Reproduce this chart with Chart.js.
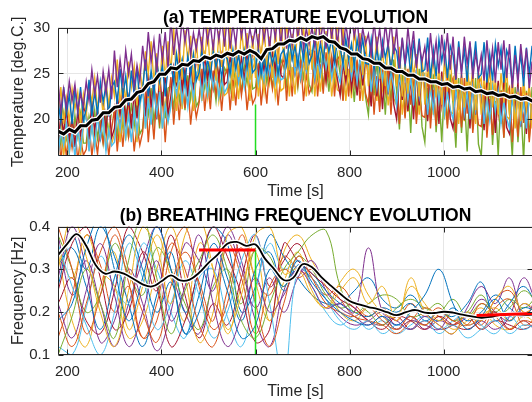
<!DOCTYPE html>
<html><head><meta charset="utf-8">
<script src="https://cdn.jsdelivr.net/npm/chart.js@4.4.1/dist/chart.umd.min.js"></script>
<style>
html,body{margin:0;padding:0;background:#fff;overflow:hidden;width:532px;height:402px;position:relative}
#c1{position:absolute;left:0;top:0}
#c2{position:absolute;left:0;top:200px}
</style></head>
<body>
<canvas id="c1" width="536" height="200"></canvas>
<canvas id="c2" width="536" height="202"></canvas>
<script>
// ---------- shared axis ----------
const xTickValues = [200, 400, 600, 800, 1000];
const xRange = [180, 1190];

// ---------- (a) temperature ----------
const tempTicks = [20, 25, 30];
const tempRange = [16, 30];
const tTimes = [180,186,192,198,204,210,216,222,228,234,240,246,252,258,264,270,276,282,288,294,
300,306,312,318,324,330,336,342,348,354,360,366,372,378,384,390,396,402,408,414,
420,426,432,438,444,450,456,462,468,474,480,486,492,498,504,510,516,522,528,534,
540,546,552,558,564,570,576,582,588,594,600,606,612,618,624,630,636,642,648,654,
660,666,672,678,684,690,696,702,708,714,720,726,732,738,744,750,756,762,768,774,
780,786,792,798,804,810,816,822,828,834,840,846,852,858,864,870,876,882,888,894,
900,906,912,918,924,930,936,942,948,954,960,966,972,978,984,990,996,1002,1008,1014,
1020,1026,1032,1038,1044,1050,1056,1062,1068,1074,1080,1086,1092,1098,1104,1110,1116,1122,1128,1134,
1140,1146,1152,1158,1164,1170,1176,1182,1188];
const tempPurple = [24.1,20.9,23.3,21.2,24.1,22.0,23.8,20.9,22.8,21.4, 24.1,22.0,25.4,22.7,24.7,21.8,25.2,22.9,25.4,22.2,
27.5,23.5,26.5,23.9,27.5,24.9,27.1,23.5,25.9,24.1, 28.0,25.3,29.5,26.2,28.6,25.1,29.3,26.4,29.5,25.5,
31.0,27.0,30.0,27.4,31.0,28.4,30.6,27.0,29.4,27.6, 29.8,27.7,31.1,28.4,30.4,27.5,30.9,28.6,31.1,27.9,
31.3,27.7,30.4,28.1,31.3,29.0,30.9,27.7,29.9,28.2, 30.0,27.9,31.3,28.6,30.6,27.7,31.1,28.8,31.3,28.1,
31.3,27.7,30.4,28.1,31.3,29.0,30.9,27.7,29.9,28.2, 30.0,27.9,31.3,28.6,30.6,27.7,31.1,28.8,31.3,28.1,
31.3,27.7,30.4,28.1,31.3,29.0,30.9,27.7,29.9,28.2, 29.3,26.9,30.7,27.7,29.9,26.7,30.5,27.9,30.7,27.1,
30.0,25.6,28.9,26.0,30.0,27.1,29.6,25.6,28.2,26.3, 27.9,25.2,29.4,26.1,28.5,25.0,29.2,26.3,29.4,25.4,
29.0,24.4,27.9,24.9,29.0,26.0,28.5,24.4,27.2,25.1, 27.0,24.2,28.6,25.1,27.7,24.0,28.4,25.4,28.6,24.5,
28.2,23.4,27.0,23.9,28.2,25.1,27.7,23.4,26.3];
const tempYellowA = [20.3,23.5,19.5,22.3,19.7,23.3,21.1,22.9,19.5,22.7, 20.5,23.7,21.9,24.5,21.1,23.5,20.5,24.1,21.5,24.5,
22.5,26.5,21.5,25.0,21.8,26.3,23.5,25.8,21.5,25.5, 23.1,27.4,25.0,28.5,23.9,27.2,23.1,28.0,24.5,28.5,
25.2,30.0,24.0,28.2,24.3,29.7,26.4,29.1,24.0,28.8, 24.2,29.0,26.3,30.2,25.1,28.7,24.2,29.6,25.7,30.2,
25.5,30.3,24.3,28.5,24.6,30.0,26.7,29.4,24.3,29.1, 24.5,29.3,26.6,30.5,25.4,29.0,24.5,29.9,26.0,30.5,
26.5,31.0,25.4,29.3,25.7,30.7,27.6,30.2,25.4,29.9, 25.4,29.9,27.4,31.0,26.2,29.6,25.4,30.4,26.8,31.0,
25.9,30.2,24.8,28.6,25.1,29.9,27.0,29.4,24.8,29.1, 23.6,27.9,25.5,29.0,24.4,27.7,23.6,28.5,25.0,29.0,
23.6,27.9,22.5,26.3,22.8,27.6,24.7,27.1,22.5,26.8, 21.6,25.9,23.5,27.0,22.4,25.7,21.6,26.5,23.0,27.0,
22.0,26.0,21.0,24.5,21.3,25.8,23.0,25.3,21.0,25.0, 20.5,24.5,22.3,25.5,21.3,24.3,20.5,25.0,21.8,25.5,
20.5,24.5,19.5,23.0,19.8,24.3,21.5,23.8,19.5];
const tempBlue = [22.1,19.7,23.5,20.5,22.7,19.5,23.3,20.7,23.5,19.9, 21.1,24.3,20.3,23.1,20.5,24.1,21.9,23.7,20.3,23.5,
24.1,21.7,25.5,22.5,24.7,21.5,25.3,22.7,25.5,21.9, 23.3,26.5,22.5,25.3,22.7,26.3,24.1,25.9,22.5,25.7,
26.0,24.1,27.1,24.7,26.5,23.9,26.9,24.9,27.1,24.2, 25.1,27.5,24.5,26.6,24.7,27.4,25.7,27.1,24.5,26.9,
26.6,24.9,27.6,25.5,27.0,24.8,27.5,25.6,27.6,25.1, 25.5,27.7,24.9,26.9,25.0,27.6,26.0,27.3,24.9,27.1,
27.6,25.9,28.6,26.5,28.0,25.8,28.5,26.6,28.6,26.1, 26.9,29.1,26.3,28.3,26.4,29.0,27.4,28.7,26.3,28.5,
27.8,26.0,28.8,26.6,28.2,25.8,28.7,26.7,28.8,26.1, 26.0,28.7,25.3,27.7,25.5,28.5,26.7,28.2,25.3,28.0,
27.4,25.0,28.8,25.8,28.0,24.8,28.6,26.0,28.8,25.2, 25.4,28.9,24.5,27.6,24.7,28.7,26.3,28.2,24.5,28.0,
27.0,24.3,28.5,25.2,27.6,24.1,28.3,25.4,28.5,24.5, 24.9,28.4,24.0,27.1,24.2,28.2,25.8,27.7,24.0,27.5,
26.5,23.8,28.0,24.7,27.1,23.6,27.8,24.9,28.0];
const tempLightBlue = [15.9,18.8,17.2,19.5,16.4,18.6,15.9,19.1,16.8,19.5, 20.5,16.5,19.5,16.9,20.5,17.9,20.1,16.5,18.9,17.1,
17.5,20.7,18.9,21.5,18.1,20.5,17.5,21.1,18.5,21.5, 23.4,19.0,22.3,19.4,23.4,20.5,23.0,19.0,21.6,19.7,
21.4,24.3,22.7,25.0,21.9,24.1,21.4,24.6,22.3,25.0, 25.6,22.4,24.8,22.7,25.6,23.5,25.3,22.4,24.3,22.9,
23.5,25.9,24.6,26.5,24.0,25.8,23.5,26.2,24.3,26.5, 26.7,23.9,26.0,24.2,26.7,24.9,26.4,23.9,25.6,24.3,
24.5,26.9,25.6,27.5,25.0,26.8,24.5,27.2,25.3,27.5, 27.5,24.5,26.8,24.8,27.5,25.6,27.2,24.5,26.3,25.0,
24.0,26.4,25.1,27.0,24.5,26.3,24.0,26.7,24.8,27.0, 26.6,23.0,25.7,23.4,26.6,24.3,26.2,23.0,25.2,23.5,
21.5,24.7,22.9,25.5,22.1,24.5,21.5,25.1,22.5,25.5, 24.5,20.5,23.5,20.9,24.5,21.9,24.1,20.5,22.9,21.1,
20.0,23.2,21.4,24.0,20.6,23.0,20.0,23.6,21.0,24.0, 23.5,19.5,22.5,19.9,23.5,20.9,23.1,19.5,21.9,20.1,
19.0,22.2,20.4,23.0,19.6,22.0,19.0,22.6,20.0];
const tempOrange = [19.5,15.5,18.5,15.9,19.5,16.9,19.1,15.5,17.9,16.1, 16.7,19.6,16.0,18.5,16.2,19.4,17.4,19.1,16.0,18.9,
21.1,16.5,20.0,17.0,21.1,18.1,20.6,16.5,19.3,17.2, 18.6,23.1,17.5,21.4,17.8,22.8,19.7,22.3,17.5,22.0,
24.6,19.4,23.3,19.9,24.6,21.2,24.1,19.4,22.5,20.2, 21.8,25.5,20.9,24.1,21.1,25.3,22.7,24.8,20.9,24.6,
25.6,21.0,24.5,21.5,25.6,22.6,25.1,21.0,23.8,21.7, 22.4,26.1,21.5,24.7,21.7,25.9,23.3,25.4,21.5,25.2,
27.0,22.0,25.8,22.5,27.0,23.8,26.5,22.0,25.0,22.8, 23.5,27.5,22.5,26.0,22.8,27.3,24.5,26.8,22.5,26.5,
27.0,22.0,25.8,22.5,27.0,23.8,26.5,22.0,25.0,22.8, 21.7,26.5,20.5,24.7,20.8,26.2,22.9,25.6,20.5,25.3,
25.5,19.5,24.0,20.1,25.5,21.6,24.9,19.5,23.1,20.4, 20.2,25.0,19.0,23.2,19.3,24.7,21.4,24.1,19.0,23.8,
24.5,18.5,23.0,19.1,24.5,20.6,23.9,18.5,22.1,19.4, 19.2,24.0,18.0,22.2,18.3,23.7,20.4,23.1,18.0,22.8,
23.5,17.5,22.0,18.1,23.5,19.6,22.9,17.5,21.1];
const tempGreen = [19.3,17.2,20.6,17.9,19.9,17.0,20.4,18.1,20.6,17.4, 17.4,20.3,18.7,21.0,17.9,20.1,17.4,20.6,18.3,21.0,
20.6,18.2,22.0,19.0,21.2,18.0,21.8,19.2,22.0,18.4, 19.0,22.5,20.5,23.4,19.7,22.3,19.0,23.0,20.1,23.4,
23.6,21.2,25.0,22.0,24.2,21.0,24.8,22.2,25.0,21.4, 22.0,24.9,23.3,25.6,22.5,24.7,22.0,25.2,22.9,25.6,
25.0,23.2,26.0,23.8,25.4,23.0,25.9,23.9,26.0,23.3, 23.5,25.9,24.6,26.5,24.0,25.8,23.5,26.2,24.3,26.5,
25.7,23.7,26.9,24.4,26.2,23.5,26.7,24.5,26.9,23.8, 23.0,26.2,24.4,27.0,23.6,26.0,23.0,26.6,24.0,27.0,
24.9,22.1,26.5,23.1,25.6,21.9,26.3,23.3,26.5,22.4, 20.5,25.3,22.6,26.5,21.4,25.0,20.5,25.9,22.0,26.5,
23.1,18.9,25.5,20.3,24.1,18.5,25.2,20.6,25.5,19.2, 17.5,23.4,20.1,24.9,18.6,23.1,17.5,24.2,19.4,24.9,
21.7,16.9,24.5,18.5,22.9,16.5,24.1,18.9,24.5,17.3, 16.0,22.4,18.8,24.0,17.2,22.0,16.0,23.2,18.0,24.0,
20.7,15.9,23.5,17.5,21.9,15.5,23.1,17.9,23.5];
const tempDarkRed = [17.0,20.5,18.5,21.4,17.7,20.3,17.0,21.0,18.1,21.4, 20.5,17.8,22.0,18.7,21.1,17.6,21.8,18.9,22.0,18.0,
19.0,22.5,20.5,23.4,19.7,22.3,19.0,23.0,20.1,23.4, 23.3,20.3,25.0,21.3,24.0,20.0,24.8,21.5,25.0,20.5,
22.5,25.7,23.9,26.5,23.1,25.5,22.5,26.1,23.5,26.5, 25.7,23.7,26.9,24.4,26.2,23.5,26.7,24.5,26.9,23.8,
24.1,26.8,25.3,27.5,24.6,26.7,24.1,27.2,25.0,27.5, 26.5,24.7,27.5,25.3,26.9,24.5,27.4,25.4,27.5,24.8,
24.5,26.9,25.6,27.5,25.0,26.8,24.5,27.2,25.3,27.5, 26.3,24.3,27.5,25.0,26.8,24.1,27.3,25.1,27.5,24.4,
22.6,26.1,24.1,27.0,23.3,25.9,22.6,26.6,23.7,27.0, 24.6,21.4,26.5,22.5,25.4,21.1,26.2,22.7,26.5,21.6,
20.0,24.8,22.1,26.0,20.9,24.5,20.0,25.4,21.5,26.0, 23.4,19.8,25.5,21.0,24.3,19.5,25.2,21.3,25.5,20.1,
19.0,23.8,21.1,25.0,19.9,23.5,19.0,24.4,20.5,25.0, 22.4,18.8,24.5,20.0,23.3,18.5,24.2,20.3,24.5,19.1,
18.4,22.9,20.4,24.0,19.2,22.6,18.4,23.4,19.8];
const tempYellowB = [16.8,20.0,16.0,18.8,16.2,19.8,17.6,19.4,16.0,19.2, 21.0,16.6,19.9,17.0,21.0,18.1,20.6,16.6,19.2,17.3,
18.4,22.1,17.5,20.7,17.7,21.9,19.3,21.4,17.5,21.2, 24.0,19.0,22.8,19.5,24.0,20.8,23.5,19.0,22.0,19.8,
21.8,25.5,20.9,24.1,21.1,25.3,22.7,24.8,20.9,24.6, 26.0,22.0,25.0,22.4,26.0,23.4,25.6,22.0,24.4,22.6,
22.9,26.4,22.0,25.1,22.2,26.2,23.8,25.7,22.0,25.5, 26.5,22.5,25.5,22.9,26.5,23.9,26.1,22.5,24.9,23.1,
23.4,27.1,22.5,25.7,22.7,26.9,24.3,26.4,22.5,26.2, 27.1,22.5,25.9,23.0,27.1,24.1,26.6,22.5,25.3,23.2,
23.0,27.0,22.0,25.5,22.3,26.8,24.0,26.3,22.0,26.0, 26.5,21.5,25.3,22.0,26.5,23.3,26.0,21.5,24.5,22.3,
21.5,25.5,20.5,24.0,20.8,25.3,22.5,24.8,20.5,24.5, 25.0,20.0,23.8,20.5,25.0,21.8,24.5,20.0,23.0,20.8,
20.6,24.9,19.5,23.3,19.8,24.6,21.7,24.1,19.5,23.8, 24.5,19.5,23.3,20.0,24.5,20.8,24.0,19.5,22.5,20.3,
20.0,24.0,19.0,22.5,19.3,23.8,21.0,23.3,19.0];
const tmTimes = [180,192,204,216,228,240,252,264,276,288,300,312,324,336,348,360,372,384,396,408,420,432,444,456,468,480,492,504,516,528,540,552,564,576,588,600,612,624,636,648,660,672,684,696,708,720,732,744,756,768,780,792,804,816,828,840,852,864,876,888,900,912,924,936,948,960,972,984,996,1008,1020,1032,1044,1056,1068,1080,1092,1104,1116,1128,1140,1152,1164,1176,1188,1200];
const tempMean = [18.7,18.4,18.9,18.6,19.3,19.3,19.9,20.0,20.7,20.7,
 21.3,21.4,22.1,22.2,22.9,23.1,23.9,24.1,24.9,24.9,
 25.6,25.5,26.0,25.9,26.4,26.3,26.8,26.6,27.0,26.8,
 27.2,27.0,27.4,27.1,27.5,27.2,26.6,27.6,27.7,28.2,
 28.2,28.6,28.5,28.9,28.6,29.0,28.8,29.0,28.5,28.4,
 27.8,27.6,27.1,27.1,26.6,26.5,26.1,26.1,25.6,25.6,
 25.2,25.2,24.8,24.8,24.4,24.4,24.1,24.1,23.8,23.9,
 23.5,23.6,23.3,23.4,23.0,23.1,22.8,22.9,22.6,22.7,
 22.4,22.5,22.2,22.3,22.0,22.1];
const tempEventX = [600, 600];
const tempEventY = [16, 21.6];

// ---------- (b) breathing frequency ----------
const freqTicks = [0.1, 0.2, 0.3, 0.4];
const freqRange = [0.1, 0.4];
const fTimes = [180,210,240,270,300,330,360,390,420,450,480,510,540,570,600,630,660,690,720,750,780,810,840,870,900,930,960,990,1020,1050,1080,1110,1140,1170,1200];
const freqS1 = [0.18,0.22,0.35,0.42,0.30,0.18,0.28,0.40,0.30,0.15,0.20,0.33,0.25,0.14,0.17,0.30,0.26,0.32,0.27,0.23,0.20,0.18,0.17,0.19,0.17,0.20,0.24,0.30,0.22,0.16,0.19,0.23,0.18,0.21,0.20];
const freqS2 = [0.40,0.30,0.15,0.24,0.38,0.27,0.14,0.22,0.36,0.30,0.17,0.12,0.25,0.35,0.22,0.12,0.22,0.33,0.28,0.22,0.20,0.19,0.21,0.18,0.16,0.19,0.17,0.20,0.18,0.17,0.22,0.19,0.16,0.18,0.17];
const freqS3 = [0.30,0.42,0.33,0.20,0.12,0.25,0.40,0.35,0.22,0.38,0.42,0.30,0.16,0.24,0.38,0.40,0.29,0.30,0.24,0.21,0.25,0.28,0.22,0.26,0.18,0.28,0.20,0.17,0.15,0.20,0.18,0.23,0.26,0.20,0.22];
const freqS4 = [0.22,0.14,0.25,0.36,0.24,0.12,0.20,0.32,0.18,0.26,0.38,0.22,0.12,0.19,0.28,0.20,0.24,0.30,0.26,0.21,0.22,0.20,0.35,0.20,0.18,0.16,0.19,0.17,0.15,0.21,0.26,0.22,0.28,0.19,0.24];
const freqS5 = [0.10,0.19,0.30,0.22,0.14,0.32,0.42,0.28,0.15,0.25,0.32,0.38,0.30,0.18,0.14,0.22,0.30,0.34,0.38,0.39,0.26,0.20,0.22,0.24,0.23,0.19,0.20,0.22,0.18,0.20,0.24,0.19,0.21,0.25,0.22];
const freqS6 = [0.36,0.26,0.17,0.10,0.20,0.36,0.28,0.16,0.22,0.32,0.24,0.14,0.20,0.32,0.38,0.22,0.05,0.30,0.28,0.23,0.18,0.16,0.18,0.15,0.17,0.16,0.18,0.15,0.17,0.14,0.16,0.18,0.15,0.17,0.16];
const freqS7 = [0.25,0.36,0.40,0.28,0.16,0.20,0.34,0.26,0.12,0.18,0.30,0.40,0.33,0.24,0.13,0.16,0.36,0.32,0.29,0.26,0.23,0.21,0.18,0.16,0.19,0.18,0.16,0.19,0.17,0.16,0.18,0.20,0.16,0.18,0.15];
const freqS8 = [0.31,0.35,0.26,0.16,0.28,0.38,0.30,0.20,0.27,0.15,0.24,0.36,0.28,0.18,0.30,0.34,0.25,0.31,0.29,0.25,0.22,0.20,0.19,0.21,0.20,0.22,0.18,0.20,0.19,0.22,0.27,0.18,0.22,0.26,0.21];
const freqS9 = [0.20,0.12,0.22,0.34,0.40,0.30,0.20,0.13,0.26,0.34,0.27,0.18,0.36,0.28,0.15,0.26,0.30,0.28,0.30,0.27,0.23,0.19,0.18,0.17,0.15,0.18,0.21,0.19,0.17,0.19,0.16,0.21,0.23,0.17,0.19];
const freqS10 = [0.35,0.28,0.38,0.30,0.26,0.14,0.18,0.30,0.40,0.28,0.13,0.20,0.38,0.40,0.27,0.18,0.27,0.34,0.25,0.21,0.27,0.30,0.24,0.20,0.19,0.26,0.22,0.18,0.20,0.17,0.19,0.21,0.18,0.22,0.20];
const freqS11 = [0.28,0.40,0.30,0.13,0.18,0.30,0.22,0.11,0.20,0.36,0.32,0.25,0.38,0.30,0.21,0.28,0.20,0.28,0.32,0.25,0.21,0.19,0.17,0.19,0.16,0.18,0.17,0.16,0.20,0.17,0.18,0.16,0.19,0.28,0.21];
const freqS12 = [0.38,0.30,0.20,0.24,0.36,0.29,0.24,0.35,0.30,0.22,0.16,0.26,0.30,0.22,0.35,0.33,0.26,0.33,0.30,0.24,0.21,0.22,0.20,0.17,0.21,0.23,0.21,0.20,0.23,0.19,0.22,0.20,0.23,0.21,0.24];
const freqS13 = [0.12,0.10,0.21,0.33,0.26,0.22,0.36,0.30,0.20,0.14,0.28,0.30,0.19,0.12,0.25,0.36,0.30,0.32,0.26,0.20,0.17,0.19,0.16,0.18,0.15,0.17,0.19,0.16,0.18,0.20,0.17,0.15,0.19,0.16,0.18];
const freqS14 = [0.22,0.28,0.18,0.15,0.25,0.40,0.34,0.25,0.38,0.24,0.14,0.22,0.17,0.28,0.38,0.26,0.32,0.36,0.30,0.27,0.24,0.21,0.18,0.17,0.19,0.16,0.18,0.16,0.17,0.19,0.16,0.18,0.17,0.16,0.18];
const freqS15 = [0.26,0.38,0.30,0.40,0.33,0.22,0.12,0.24,0.34,0.20,0.30,0.40,0.36,0.20,0.26,0.38,0.33,0.28,0.24,0.22,0.22,0.25,0.28,0.23,0.21,0.24,0.20,0.18,0.21,0.18,0.20,0.24,0.21,0.19,0.23];
const freqS16 = [0.14,0.24,0.38,0.31,0.20,0.26,0.14,0.18,0.34,0.40,0.26,0.16,0.22,0.38,0.28,0.24,0.33,0.30,0.28,0.24,0.26,0.22,0.19,0.21,0.18,0.22,0.19,0.21,0.18,0.20,0.17,0.23,0.25,0.20,0.22];
const freqS17 = [0.34,0.18,0.12,0.26,0.34,0.16,0.26,0.38,0.28,0.18,0.36,0.30,0.15,0.26,0.34,0.18,0.34,0.38,0.32,0.26,0.20,0.18,0.21,0.19,0.16,0.18,0.17,0.19,0.16,0.18,0.21,0.17,0.16,0.19,0.17];
const freqS18 = [0.38,0.24,0.32,0.22,0.12,0.22,0.32,0.40,0.30,0.20,0.15,0.28,0.40,0.32,0.18,0.12,0.25,0.30,0.28,0.23,0.19,0.17,0.18,0.20,0.17,0.19,0.16,0.18,0.17,0.19,0.23,0.20,0.18,0.22,0.19];
const fmTimes = [180,200,220,240,260,280,300,320,340,360,380,400,420,440,460,480,500,520,540,560,580,600,620,640,660,680,700,720,740,760,780,800,820,840,860,880,900,920,940,960,980,1000,1020,1040,1060,1080,1100,1120,1140,1160,1180,1200];
const freqMean = [0.333,0.360,0.382,0.355,0.310,0.290,0.295,0.290,0.278,0.265,
 0.260,0.272,0.286,0.274,0.276,0.292,0.315,0.335,0.360,0.364,
 0.355,0.358,0.325,0.300,0.275,0.280,0.312,0.305,0.282,0.262,
 0.243,0.226,0.218,0.212,0.207,0.200,0.193,0.200,0.205,0.199,
 0.198,0.201,0.199,0.194,0.190,0.187,0.189,0.194,0.196,0.195,
 0.194,0.195];
const freqRed1X = [480, 600], freqRed1Y = [0.345, 0.345];
const freqRed2X = [1070, 1200], freqRed2Y = [0.192, 0.197];
const freqEventX = [600, 600], freqEventY = [0.1, 0.345];

// ---------- styling ----------
const C = {blue:'#0072BD', orange:'#D95319', yellow:'#EDB120', purple:'#7E2F8E', green:'#77AC30', lightblue:'#4DBEEE', darkred:'#A2142F'};
const FONT = "'Liberation Sans', Arial, Helvetica, sans-serif";
const pts = (xs, ys) => xs.map((x, i) => ({x: x, y: ys[i]}));

const boxPlugin = {
  id: 'box',
  afterDatasetsDraw(chart) {
    const {ctx, chartArea: a, scales: {x, y}} = chart;
    ctx.save();
    ctx.strokeStyle = '#262626';
    ctx.lineWidth = 1;
    ctx.beginPath();
    const L = Math.round(a.left) + 0.5, R = Math.round(a.right) - 0.5, T = Math.round(a.top) + 0.5, B = Math.round(a.bottom) - 0.5;
    ctx.rect(L, T, R - L, B - T);
    x.ticks.forEach(t => { const p = Math.round(x.getPixelForValue(t.value)) + 0.5; ctx.moveTo(p, B); ctx.lineTo(p, B - 5); ctx.moveTo(p, T); ctx.lineTo(p, T + 5); });
    y.ticks.forEach(t => { const p = Math.round(y.getPixelForValue(t.value)) + 0.5; ctx.moveTo(L, p); ctx.lineTo(L + 5, p); ctx.moveTo(R, p); ctx.lineTo(R - 5, p); });
    ctx.stroke();
    ctx.restore();
  }
};

function makeOptions(o) {
  return {
    responsive: false, animation: false, devicePixelRatio: 1,
    layout: {padding: {left: 0, right: 3, top: 0, bottom: 0}},
    plugins: {
      legend: {display: false}, tooltip: {enabled: false},
      title: {display: true, text: o.title, color: '#000', fullSize: false,
        font: {family: FONT, size: 17.5, weight: 'bold', lineHeight: 1},
        padding: {top: o.tPadTop, bottom: o.tPadBottom}}
    },
    scales: {
      x: {type: 'linear', min: xRange[0], max: xRange[1],
        afterBuildTicks: s => { s.ticks = xTickValues.map(v => ({value: v})); },
        afterFit: s => { s.height = o.xHeight; },
        grid: {color: '#e6e6e6', drawTicks: false}, border: {display: false},
        ticks: {color: '#262626', padding: 8, maxRotation: 0, font: {family: FONT, size: 15}, callback: v => String(v)},
        title: {display: true, text: 'Time [s]', color: '#262626', font: {family: FONT, size: 16, lineHeight: 1}, padding: {top: 0, bottom: o.xTitlePad}}
      },
      y: {type: 'linear', min: o.yRange[0], max: o.yRange[1],
        afterBuildTicks: s => { s.ticks = o.yTicks.map(v => ({value: v})); },
        afterFit: s => { s.width = 58; },
        grid: {color: '#e6e6e6', drawTicks: false}, border: {display: false},
        ticks: {color: '#262626', padding: 8, font: {family: FONT, size: 15}, callback: o.yFmt},
        title: {display: true, text: o.yTitle, color: '#262626', font: {family: FONT, size: 16, lineHeight: 1}, padding: {top: 11, bottom: 0}}
      }
    }
  };
}

function series(xs, ys, color, order, width, tension) {
  return {data: pts(xs, ys), borderColor: color, borderWidth: width, pointRadius: 0, tension: tension, order: order, fill: false};
}

// ---------- chart (a) ----------
const TW = 1.4;
new Chart(document.getElementById('c1'), {
  type: 'line',
  data: {datasets: [
    series(tmTimes, tempMean, '#000000', 0, 3, 0),
    series(tmTimes, tempMean, '#ffffff', 1, 5.5, 0),
    series(tempEventX, tempEventY, '#22dd22', 2, 1.5, 0),
    series(tTimes, tempPurple, C.purple, 3, TW, 0),
    series(tTimes, tempBlue, C.blue, 4, TW, 0),
    series(tTimes, tempYellowA, C.yellow, 5, TW, 0),
    series(tTimes, tempLightBlue, C.lightblue, 6, TW, 0),
    series(tTimes, tempDarkRed, C.darkred, 7, TW, 0),
    series(tTimes, tempYellowB, C.yellow, 8, TW, 0),
    series(tTimes, tempOrange, C.orange, 9, TW, 0),
    series(tTimes, tempGreen, C.green, 10, TW, 0)
  ]},
  options: makeOptions({title: '(a) TEMPERATURE EVOLUTION', tPadTop: 9, tPadBottom: 1, xHeight: 44, xTitlePad: 0,
    yRange: tempRange, yTicks: tempTicks, yTitle: 'Temperature [deg.C.]', yFmt: v => String(v)}),
  plugins: [boxPlugin]
});

// ---------- chart (b) ----------
const freqColors = [C.blue, C.orange, C.yellow, C.purple, C.green, C.lightblue, C.darkred];
const freqAll = [freqS1, freqS2, freqS3, freqS4, freqS5, freqS6, freqS7, freqS8, freqS9, freqS10, freqS11, freqS12, freqS13, freqS14, freqS15, freqS16, freqS17, freqS18];
const dsB = [
  series(freqRed1X, freqRed1Y, '#ff0000', 0, 3, 0),
  series(freqRed2X, freqRed2Y, '#ff0000', 0, 3, 0),
  series(freqEventX, freqEventY, '#22dd22', 1, 1.5, 0),
  series(fmTimes, freqMean, '#000000', 2, 1.8, 0.4),
  series(fmTimes, freqMean, '#ffffff', 3, 4.5, 0.4)
];
freqAll.forEach((arr, i) => dsB.push(series(fTimes, arr, freqColors[i % 7], 4 + i, 1, 0.4)));
new Chart(document.getElementById('c2'), {
  type: 'line',
  data: {datasets: dsB},
  options: makeOptions({title: '(b) BREATHING FREQUENCY EVOLUTION', tPadTop: 7.5, tPadBottom: 1.5, xHeight: 47, xTitlePad: 2,
    yRange: freqRange, yTicks: freqTicks, yTitle: 'Frequency [Hz]', yFmt: v => Number(v).toFixed(1)}),
  plugins: [boxPlugin]
});
</script>
</body></html>
